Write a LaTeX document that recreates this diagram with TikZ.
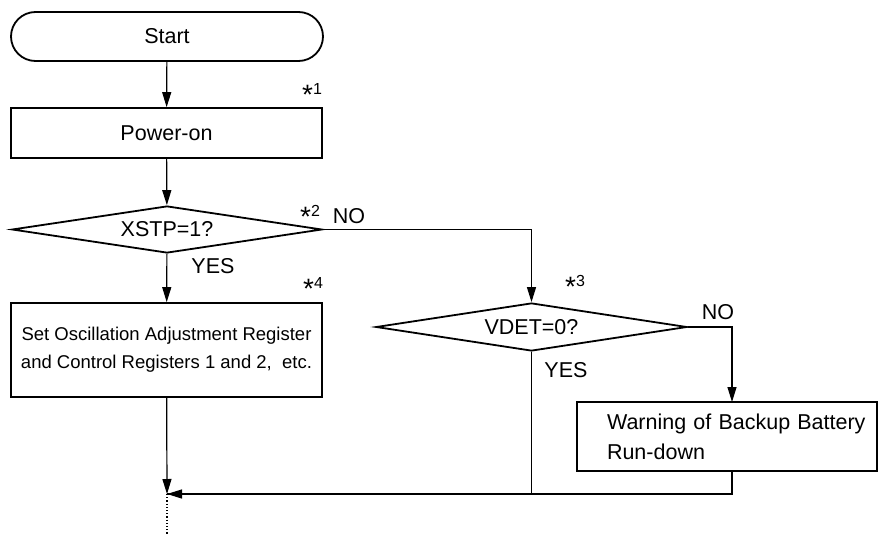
\documentclass[tikz,border=0pt]{standalone}
\usepackage{fontspec}
\setmainfont{Liberation Sans}
\usetikzlibrary{shapes.misc,shapes.geometric,arrows.meta}
\tikzset{
  lbl/.style={font=\fontsize{21.5}{30}\selectfont},
  small/.style={font=\fontsize{18.5}{28}\selectfont},
  boxline/.style={draw, line width=1.8pt},
  procbox/.style={boxline, rectangle, inner sep=0pt, lbl, align=center},
  decision/.style={boxline, diamond, inner sep=0pt, aspect=6, lbl},
  conn/.style={line width=1.2pt},
  arr/.style={conn, -{Triangle[length=15pt,width=9pt]}},
  note/.style={lbl, inner sep=0pt},
}
\newcommand{\mystar}[1]{{\fontsize{28}{28}\selectfont\raisebox{-0.33em}{*}}{\fontsize{16}{16}\selectfont #1}}
\begin{document}
\begin{tikzpicture}[x=1pt,y=-1pt]
\useasboundingbox (0,0) rectangle (878,535);
\node[boxline, rounded rectangle, minimum width=312pt, minimum height=49pt, inner sep=0pt, lbl] (start) at (167,36.5) {Start};
\node[procbox, minimum width=311pt, minimum height=50pt] (power) at (166.5,133) {Power-on};
\node[decision, minimum width=310pt, minimum height=47pt] (d1) at (167,229.5) {XSTP=1?};
\node[procbox, small, minimum width=311pt, minimum height=94pt] (setbox) at (166.5,350) {Set Oscillation Adjustment Register\\and Control Registers 1 and 2,\ \ etc.};
\node[decision, minimum width=311pt, minimum height=48pt] (d2) at (531.5,327) {VDET=0?};
\node[boxline, rectangle, inner ysep=0pt, inner xsep=0pt, text width=300pt, align=left, minimum height=69pt, lbl] (warn) at (727,436.5) {\hspace*{30pt}Warning of Backup Battery\\\hspace*{30pt}Run-down};

\coordinate (j) at (167,494);
\coordinate (end) at (167,535);
\coordinate (wtop) at (732,402);
\coordinate (wbot) at (732,471);

\draw[arr] (start) -- (power);
\draw[arr] (power) -- (d1);
\draw[arr] (d1) -- (setbox);
\draw[arr] (d1.east) -| (d2.north);
\draw[arr] (d2.east) -| (wtop);
\draw[arr] (setbox) -- (j);
\draw[conn] (d2.south) |- (j);
\draw[arr] (wbot) |- (j);
\draw[conn, dotted] (j) -- (end);

\node[note] (n1) at (312,94) {\mystar{1}};
\node[note] (n2) at (310,216) {\mystar{2}};
\node[note] (no1) at (349,216) {NO};
\node[note] (yes1) at (213,266) {YES};
\node[note] (n4) at (313,288) {\mystar{4}};
\node[note] (n3) at (575,286) {\mystar{3}};
\node[note] (no2) at (718,312) {NO};
\node[note] (yes2) at (566,370) {YES};
\end{tikzpicture}
\end{document}
